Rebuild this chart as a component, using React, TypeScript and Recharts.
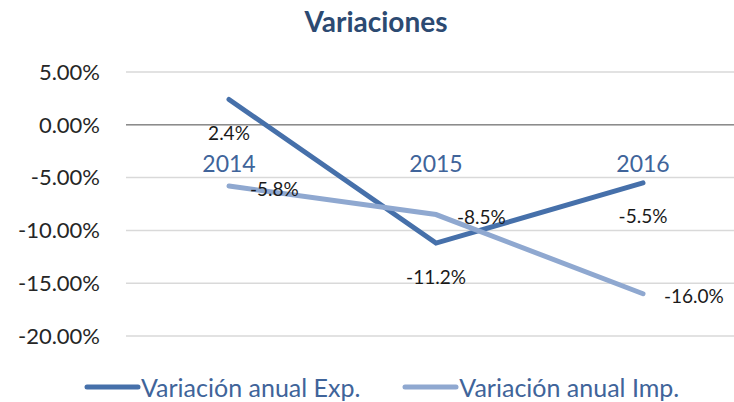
import {
  LineChart,
  Line,
  XAxis,
  YAxis,
  CartesianGrid,
  ReferenceLine,
  ReferenceDot,
  LabelList,
  Legend,
} from "recharts";

const years = ["2014", "2015", "2016"];
const expVariation = [2.4, -11.2, -5.5];
const impVariation = [-5.8, -8.5, -16.0];
const yTicks = [5, 0, -5, -10, -15, -20];

const data = years.map((year, i) => ({
  year,
  exp: expVariation[i],
  imp: impVariation[i],
}));

const EXP_COLOR = "#4670aa";
const IMP_COLOR = "#8fa8d0";
const TEXT_BLUE = "#40649a";
const FONT = "Lato, 'Open Sans', sans-serif";

const pct1 = (v: number) => `${v.toFixed(1)}%`;

const ExpLabel = (props: any) => {
  const { x, y, value } = props;
  return (
    <text x={x} y={y + 33} textAnchor="middle" dominantBaseline="central" fontSize={19} fill="#1a1a1a" fontFamily={FONT}>
      {pct1(value)}
    </text>
  );
};

const ImpLabel = (props: any) => {
  const { x, y, value } = props;
  return (
    <text x={x + 21} y={y + 2} textAnchor="start" dominantBaseline="central" fontSize={19} fill="#1a1a1a" fontFamily={FONT}>
      {pct1(value)}
    </text>
  );
};

const legendItems = [
  { name: "Variación anual Exp.", color: EXP_COLOR },
  { name: "Variación anual Imp.", color: IMP_COLOR },
];

const LegendContent = () => (
  <div style={{ display: "flex", alignItems: "center", height: 40, paddingLeft: 84, fontFamily: FONT }}>
    {legendItems.map((it, i) => (
      <div key={it.name} style={{ display: "flex", alignItems: "center", marginRight: i === 0 ? 42 : 0 }}>
        <svg width={57} height={8}>
          <line x1={3} y1={4} x2={54} y2={4} stroke={it.color} strokeWidth={5} strokeLinecap="round" />
        </svg>
        <span style={{ fontSize: 25, color: TEXT_BLUE, whiteSpace: "nowrap" }}>{it.name}</span>
      </div>
    ))}
  </div>
);

export default function App() {
  return (
    <div style={{ position: "absolute", left: 0, top: 0, width: 734, height: 402, background: "#fff" }}>
      <div
        style={{
          position: "absolute",
          top: 4,
          left: 18,
          width: 716,
          textAlign: "center",
          fontFamily: FONT,
          fontWeight: 700,
          fontSize: 28,
          color: "#2c4a72",
          zIndex: 2,
        }}
      >
        Variaciones
      </div>
      <LineChart width={734} height={402} data={data} margin={{ top: 72, right: 0, bottom: 26, left: 0 }}>
        <CartesianGrid horizontal vertical={false} stroke="#d9d9d9" strokeWidth={1.5} />
        <XAxis dataKey="year" hide padding={{ left: 103, right: 91 }} />
        <YAxis
          domain={[-20, 5]}
          ticks={yTicks}
          width={126}
          axisLine={false}
          tickLine={false}
          tickSize={6}
          tickMargin={20}
          tickFormatter={(v: number) => `${v.toFixed(2)}%`}
          tick={{ fontSize: 22, fill: "#262626", fontFamily: FONT }}
        />
        <ReferenceLine y={0} stroke="#8c8c8c" strokeWidth={1.5} />
        {years.map((y) => (
          <ReferenceDot
            key={y}
            x={y}
            y={0}
            r={0}
            shape={(p: any) => (
              <text x={p.cx} y={p.cy + 38} textAnchor="middle" dominantBaseline="central" fontSize={23} fill={TEXT_BLUE} fontFamily={FONT}>
                {y}
              </text>
            )}
          />
        ))}
        <Line
          dataKey="exp"
          name="Variación anual Exp."
          stroke={EXP_COLOR}
          strokeWidth={5}
          strokeLinecap="round"
          dot={false}
          isAnimationActive={false}
        >
          <LabelList dataKey="exp" content={ExpLabel} />
        </Line>
        <Line
          dataKey="imp"
          name="Variación anual Imp."
          stroke={IMP_COLOR}
          strokeWidth={5}
          strokeLinecap="round"
          dot={false}
          isAnimationActive={false}
        >
          <LabelList dataKey="imp" content={ImpLabel} />
        </Line>
        <Legend verticalAlign="bottom" height={40} wrapperStyle={{ top: 367, bottom: "auto", left: 0 }} content={LegendContent} />
      </LineChart>
    </div>
  );
}
